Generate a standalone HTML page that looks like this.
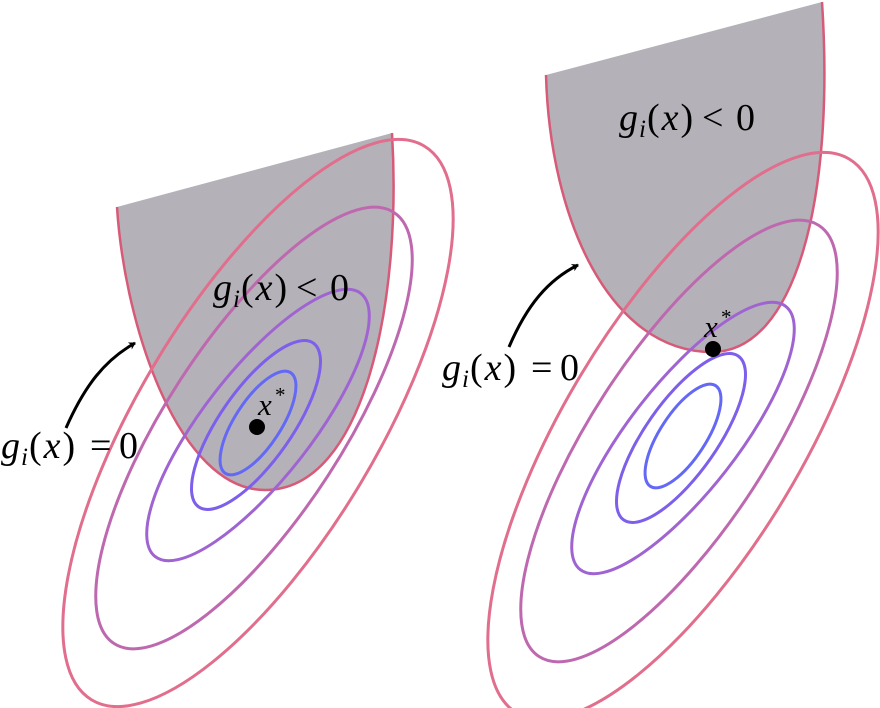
<!DOCTYPE html>
<html><head><meta charset="utf-8"><style>
html,body{margin:0;padding:0;background:#fff;overflow:hidden;}
svg{display:block;}
text{font-family:"Liberation Serif",serif;fill:#000;}
.i{font-style:italic;}
</style></head><body>
<svg width="880" height="708" viewBox="0 0 880 708" xmlns="http://www.w3.org/2000/svg">
<defs>
<g id="ell" fill="none" stroke-width="3">
<ellipse cx="0" cy="0" rx="323" ry="119" stroke="rgb(225,110,140)" transform="rotate(-59)"/>
<ellipse cx="-4" cy="5" rx="257" ry="88" stroke="rgb(190,105,175)" transform="rotate(-57 -4 5)"/>
<ellipse cx="0" cy="2" rx="167" ry="54" stroke="rgb(160,100,210)" transform="rotate(-52 0 2)"/>
<ellipse cx="-2" cy="2" rx="100" ry="36" stroke="rgb(125,95,235)" transform="rotate(-55 -2 2)"/>
<ellipse cx="0" cy="0" rx="60" ry="23" stroke="rgb(100,105,245)" transform="rotate(-57)"/>
</g>
<g id="lt">
<text class="i" x="0" y="0" font-size="38">g</text>
<text class="i" x="20" y="7" font-size="25">i</text>
<text x="28" y="0" font-size="38" letter-spacing="2">(<tspan class="i">x</tspan>)</text>
</g>
<marker id="ah" markerWidth="10" markerHeight="10" refX="6" refY="5" orient="auto" markerUnits="userSpaceOnUse">
<path d="M0,1 L7,5 L0,9 L2,5 Z" fill="#000"/>
</marker>
</defs>
<!-- left -->
<path d="M117,207 L392,133 C402,300 365,490 265,490 C180,490 125,330 117,207 Z" fill="rgb(180,178,184)"/>
<path d="M392,133 C402,300 365,490 265,490 C180,490 125,330 117,207" fill="none" stroke="rgb(215,90,120)" stroke-width="2.5"/>
<use href="#ell" transform="translate(258,423)"/>
<circle cx="257" cy="427" r="8" fill="#000"/>
<text class="i" x="258" y="415" font-size="31">x</text><text x="275" y="402" font-size="21">*</text>
<use href="#lt" transform="translate(213,300)"/>
<text x="296" y="300" font-size="38">&lt;</text><text x="330" y="300" font-size="38">0</text>
<use href="#lt" transform="translate(1,458)"/>
<text x="90" y="458" font-size="38">=</text><text x="119" y="458" font-size="38">0</text>
<path d="M66,428 C85,385 105,360 135,343" fill="none" stroke="#000" stroke-width="3" marker-end="url(#ah)"/>
<!-- right -->
<path d="M546,75 L822,2 C835,200 795,352 712,352 C610,352 550,220 546,75 Z" fill="rgb(180,178,184)"/>
<path d="M822,2 C835,200 795,352 712,352 C610,352 550,220 546,75" fill="none" stroke="rgb(215,90,120)" stroke-width="2.5"/>
<use href="#ell" transform="translate(683,436)"/>
<circle cx="713" cy="349" r="8" fill="#000"/>
<text class="i" x="704" y="337" font-size="31">x</text><text x="721" y="324" font-size="21">*</text>
<use href="#lt" transform="translate(619,130)"/>
<text x="702" y="130" font-size="38">&lt;</text><text x="736" y="130" font-size="38">0</text>
<use href="#lt" transform="translate(442,380)"/>
<text x="531" y="380" font-size="38">=</text><text x="560" y="380" font-size="38">0</text>
<path d="M509,347 C527,305 548,280 578,265" fill="none" stroke="#000" stroke-width="3" marker-end="url(#ah)"/>
</svg>
</body></html>
